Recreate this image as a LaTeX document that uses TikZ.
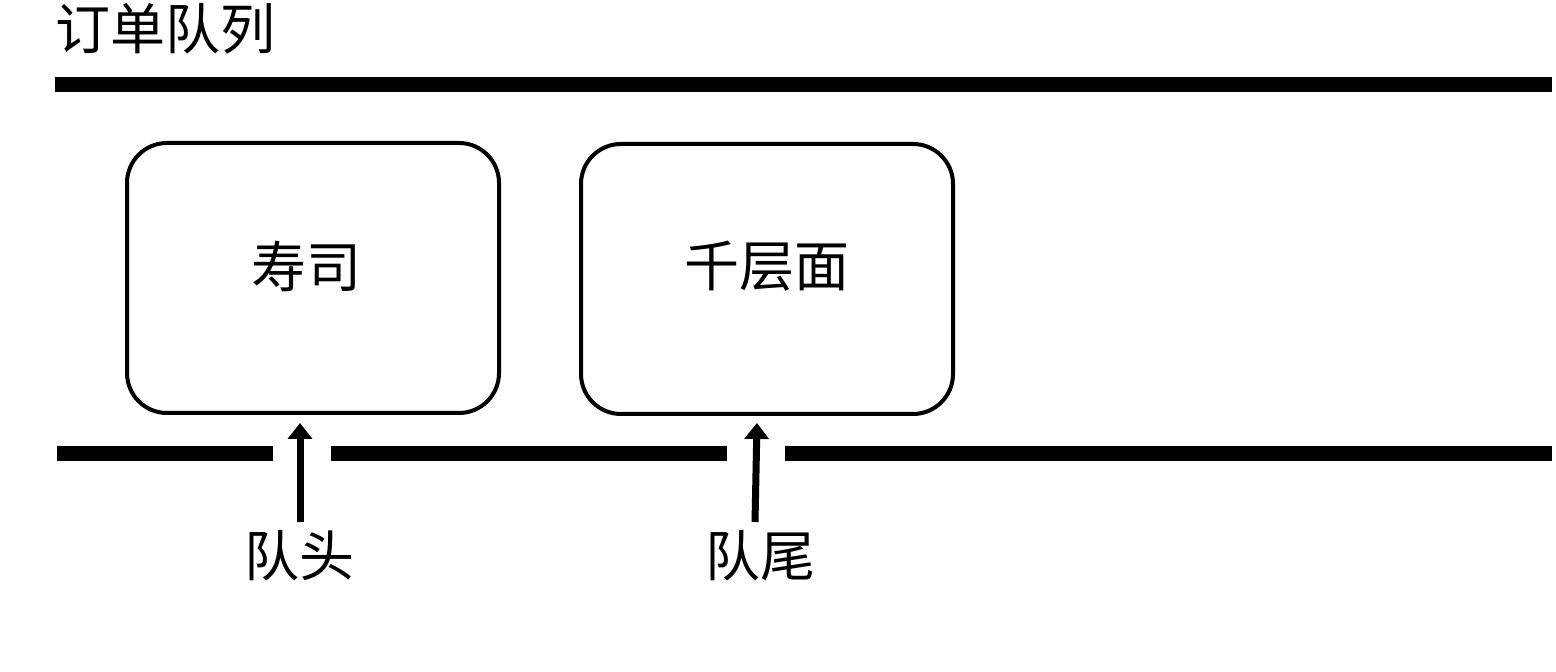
\documentclass[tikz,border=0pt]{standalone}
\usepackage{fontspec}
\newfontfamily\cjk{Noto Sans CJK SC}
\usetikzlibrary{arrows.meta}
\begin{document}
\begin{tikzpicture}[x=0.5pt,y=-0.5pt,
  bar/.style={line width=7.5pt},
  item/.style={draw, line width=2pt, rounded corners=20pt, minimum width=186pt, minimum height=135pt, inner sep=0pt},
  lbl/.style={font=\cjk\fontsize{27.5}{30}\selectfont, inner sep=0pt},
  ptr/.style={line width=3.5pt, -{Triangle[width=12pt,length=8pt]}}]
\useasboundingbox (0,0) rectangle (1556,672);
\node[lbl, anchor=west] (title) at (55,29) {订单队列};
\draw[bar] (55,85) -- (1552,85);
\draw[bar] (57,454) -- (273,454);
\draw[bar] (331,454) -- (727,454);
\draw[bar] (785,454) -- (1552,454);
\node[item] (sushi) at (313,278) {};
\node[item] (lasagna) at (767,279) {};
\node[lbl] (sushit) at (306,266) {寿司};
\node[lbl] (lasagnat) at (767,266) {千层面};
\node[lbl] (head) at (299,556) {队头};
\node[lbl] (tail) at (760,556) {队尾};
\coordinate (h1) at (300,522);
\coordinate (h2) at (300,423);
\coordinate (t1) at (755,522);
\coordinate (t2) at (757,423);
\draw[ptr] (h1) -- (h2);
\draw[ptr] (t1) -- (t2);
\end{tikzpicture}
\end{document}
